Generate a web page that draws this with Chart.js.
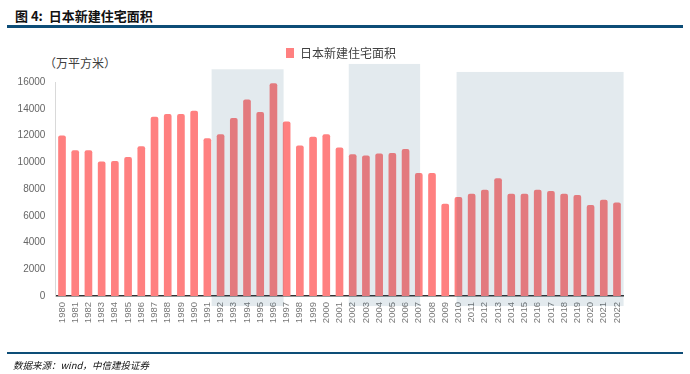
<!DOCTYPE html>
<html>
<head>
<meta charset="utf-8">
<script src="https://cdn.jsdelivr.net/npm/chart.js@4"></script>
<style>
  html, body { margin: 0; padding: 0; background: #fff; }
  body { width: 690px; height: 374px; position: relative; overflow: hidden; font-family: "Noto Sans CJK SC", sans-serif; }
  #title { position: absolute; left: 15px; top: 6px; font-size: 13px; font-weight: bold; color: #111; white-space: nowrap; }
  .rule { position: absolute; left: 7px; width: 676px; background: #0d4d77; }
  #unit { position: absolute; left: 44px; top: 54px; font-size: 12px; color: #404040; white-space: nowrap; }
  #source { position: absolute; left: 13px; top: 358px; font-size: 9.5px; font-style: italic; color: #111; white-space: nowrap; }
  #chart { position: absolute; left: 0; top: 0; }
</style>
</head>
<body>
<div id="title">图 4:&nbsp; 日本新建住宅面积</div>
<div class="rule" style="top:25px;height:3px;"></div>
<div id="unit">（万平方米）</div>
<canvas id="chart" width="682" height="374"></canvas>
<div class="rule" style="top:352px;height:2px;"></div>
<div id="source">数据来源：wind，中信建投证券</div>

<script>
// 数据
const years = [
  "1980","1981","1982","1983","1984","1985","1986","1987","1988","1989",
  "1990","1991","1992","1993","1994","1995","1996","1997","1998","1999",
  "2000","2001","2002","2003","2004","2005","2006","2007","2008","2009",
  "2010","2011","2012","2013","2014","2015","2016","2017","2018","2019",
  "2020","2021","2022"
];
const area = [
  12000, 10900, 10900, 10050, 10100, 10400, 11200, 13400, 13600, 13600,
  13850, 11800, 12100, 13300, 14700, 13750, 15900, 13050, 11250, 11900,
  12100, 11100, 10600, 10500, 10650, 10700, 11000, 9200, 9200, 6900,
  7400, 7650, 7950, 8800, 7650, 7650, 7950, 7850, 7650, 7550,
  6800, 7200, 7000
];
const seriesName = "日本新建住宅面积";
const yTicks = [0, 2000, 4000, 6000, 8000, 10000, 12000, 14000, 16000];

// 阴影区间 (类别位置, 顶部数值)
const shadeFrom = [11.32, 21.7, 29.86];
const shadeTo   = [16.77, 27.1, 42.5];
const shadeTop  = [16950, 17350, 16750];
const shadeBottom = -750;

// 背景阴影
const shadePlugin = {
  id: "shade",
  afterDatasetsDraw(chart) {
    const x = chart.scales.x, y = chart.scales.y;
    const ctx = chart.ctx;
    const x0 = x.getPixelForValue(0);
    const step = x.getPixelForValue(1) - x0;
    ctx.save();
    ctx.fillStyle = "rgba(26,85,119,0.12)";
    shadeFrom.forEach((from, i) => {
      const left = x0 + from * step;
      const right = x0 + shadeTo[i] * step;
      const top = y.getPixelForValue(shadeTop[i]);
      const bottom = y.getPixelForValue(shadeBottom);
      ctx.fillRect(left, top, right - left, bottom - top);
    });
    ctx.restore();
  }
};

const ctx = document.getElementById("chart").getContext("2d");
new Chart(ctx, {
  type: "bar",
  data: {
    labels: years,
    datasets: [{
      label: seriesName,
      data: area,
      backgroundColor: "#ff8080",
      borderRadius: { topLeft: 2, topRight: 2 },
      borderSkipped: "bottom",
      barPercentage: 0.58,
      categoryPercentage: 1
    }]
  },
  options: {
    responsive: false,
    devicePixelRatio: 1,
    animation: false,
    layout: { padding: { top: 25, left: 0, right: 0, bottom: 0 } },
    plugins: {
      legend: {
        display: true,
        position: "top",
        labels: {
          boxWidth: 8,
          boxHeight: 10,
          padding: 22,
          color: "#404040",
          font: { size: 12, family: "'Noto Sans CJK SC', sans-serif" }
        }
      },
      tooltip: { enabled: false }
    },
    scales: {
      x: {
        grid: { display: false, drawTicks: false },
        border: { color: "#333", width: 1.5 },
        ticks: {
          minRotation: 90,
          maxRotation: 90,
          autoSkip: false,
          padding: 6,
          color: "#777",
          font: { size: 9.5, family: "Arial, 'Liberation Sans', sans-serif" }
        },
        afterFit(scale) { scale.height = 78; }
      },
      // 图例与绘图区之间的空白
      xTop: {
        position: "top",
        grid: { display: false, drawTicks: false },
        border: { display: false },
        ticks: { display: false },
        afterFit(scale) { scale.height = 13; }
      },
      y: {
        min: 0,
        max: 16000,
        grid: { display: false, drawTicks: false },
        border: { color: "#d9d9d9", width: 1 },
        afterBuildTicks(scale) { scale.ticks = yTicks.map(v => ({ value: v })); },
        ticks: {
          padding: 10,
          color: "#666",
          font: { size: 10, family: "Arial, 'Liberation Sans', sans-serif" },
          callback: v => String(v)
        },
        afterFit(scale) { scale.width = 55.4; }
      },
      yR: {
        position: "right",
        grid: { display: false, drawTicks: false },
        border: { display: false },
        ticks: { display: false },
        afterFit(scale) { scale.width = 58.4; }
      }
    }
  },
  plugins: [shadePlugin]
});
</script>
</body>
</html>
